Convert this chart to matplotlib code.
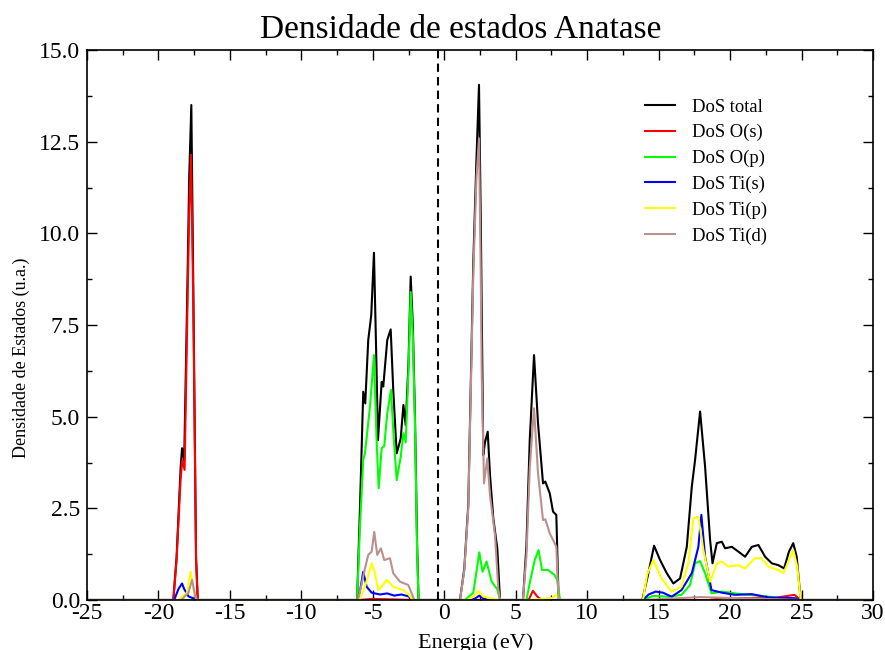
import matplotlib
matplotlib.use("Agg")
import matplotlib.pyplot as plt
from matplotlib.ticker import MultipleLocator, FuncFormatter

# ---------------- data ----------------
labels = ["DoS total", "DoS O(s)", "DoS O(p)", "DoS Ti(s)", "DoS Ti(p)", "DoS Ti(d)"]
colors = ["#000000", "#ff0000", "#00ff00", "#0000ff", "#ffff00", "#bc8f8f"]

fermi_level = -0.42

total_x = [-25, -18.96, -18.73, -18.45, -18.35, -18.2, -17.98, -17.85, -17.7, -17.56, -17.37, -17.25,
           -6.1, -5.9, -5.67, -5.53, -5.32, -5.11, -4.92, -4.75, -4.64, -4.38, -4.27, -3.99, -3.75,
           -3.57, -3.33, -3.05, -2.86, -2.7, -2.5, -2.35, -2.2, -2.05, -1.9, -1.8,
           1.1, 1.4, 1.68, 2.03, 2.25, 2.43, 2.55, 2.73, 2.85, 3.04, 3.2, 3.43, 3.71, 3.9,
           5.51, 5.75, 5.98, 6.28, 6.56, 6.91, 7.07, 7.38, 7.61, 7.84, 8.0,
           13.86, 14.28, 14.68, 15.1, 15.57, 16.03, 16.5, 16.97, 17.32, 17.55, 17.9, 18.25, 18.6,
           18.77, 19.07, 19.42, 19.65, 20.12, 20.58, 21.05, 21.52, 21.98, 22.45, 22.92, 23.38,
           23.78, 24.12, 24.42, 24.66, 24.94, 30]
total_y = [0, 0, 1.18, 3.6, 4.14, 3.8, 8.45, 11.5, 13.5, 8.45, 1.18, 0,
           0, 2.5, 5.68, 5.36, 7.09, 7.77, 9.47, 6.5, 4.36, 5.95, 5.82, 7.09, 7.38,
           5.73, 4.0, 4.4, 5.32, 4.77, 6.5, 8.82, 7.5, 5.0, 1.5, 0,
           0, 0.85, 2.6, 9.2, 12.0, 14.05, 10.5, 3.95, 4.3, 4.59, 3.41, 2.23, 1.41, 0,
           0, 1.5, 4.36, 6.68, 4.82, 3.18, 3.23, 2.91, 2.41, 2.32, 0,
           0, 0.73, 1.48, 1.09, 0.73, 0.45, 0.59, 1.45, 3.09, 3.82, 5.14, 3.64, 1.64,
           1.0, 1.55, 1.59, 1.41, 1.45, 1.32, 1.18, 1.45, 1.5, 1.18, 1.0, 0.95,
           0.86, 1.32, 1.55, 1.18, 0, 0]

os_x = [-25, -18.96, -18.73, -18.45, -18.33, -18.17, -17.98, -17.85, -17.72, -17.56, -17.37, -17.25,
        -6.0, -5.0, -2.0, 5.9, 6.2, 6.5, 6.8, 18.5, 19.5, 23.0, 24.5, 24.94, 30]
os_y = [0, 0, 1.1, 3.3, 3.82, 3.55, 7.8, 10.5, 12.14, 8.0, 1.1, 0,
        0, 0.03, 0, 0, 0.25, 0.1, 0, 0, 0.05, 0.05, 0.14, 0, 0]

op_x = [-25, -6.1, -5.9, -5.67, -5.55, -5.2, -4.92, -4.75, -4.59, -4.38, -4.2, -3.99, -3.73, -3.55,
        -3.33, -3.05, -2.86, -2.7, -2.5, -2.35, -2.2, -2.05, -1.9, -1.8,
        1.45, 2.03, 2.3, 2.45, 2.68, 2.96, 3.31, 3.7, 3.9,
        5.75, 6.0, 6.33, 6.6, 6.84, 7.26, 7.72, 7.9, 8.1,
        13.9, 14.6, 15.7, 16.6, 17.2, 17.55, 17.9, 18.25, 18.7, 19.42, 20.35, 22.68, 24.9, 30]
op_y = [0, 0, 2.0, 3.82, 4.0, 5.27, 6.68, 4.5, 3.05, 4.14, 4.2, 5.09, 5.73, 4.5,
        3.27, 3.9, 4.55, 4.3, 6.3, 8.4, 7.2, 4.8, 1.3, 0,
        0, 0.2, 0.9, 1.3, 0.77, 1.05, 0.5, 0.3, 0,
        0, 0.5, 1.09, 1.36, 0.82, 0.82, 0.68, 0.55, 0,
        0, 0.11, 0.09, 0.14, 0.41, 1.0, 1.06, 0.73, 0.18, 0.23, 0.18, 0.09, 0, 0]

tis_x = [-25, -18.9, -18.6, -18.35, -18.2, -17.9, -17.6, -17.3,
         -6.05, -5.85, -5.67, -5.43, -5.08, -4.5, -4.0, -3.5, -3.0, -2.5, -2.1,
         1.8, 2.2, 2.45, 2.7, 3.1,
         13.9, 14.3, 14.8, 15.3, 15.91, 16.6, 17.32, 17.78, 17.99, 18.25, 18.7, 19.42, 20.35,
         21.52, 22.68, 24.5, 24.94, 30]
tis_y = [0, 0, 0.3, 0.45, 0.3, 0.1, 0.05, 0,
         0, 0.35, 0.77, 0.36, 0.2, 0.15, 0.18, 0.12, 0.15, 0.1, 0,
         0, 0.05, 0.12, 0.05, 0,
         0, 0.15, 0.23, 0.2, 0.09, 0.27, 0.73, 1.45, 2.32, 1.18, 0.27, 0.2, 0.14,
         0.16, 0.07, 0.05, 0, 0]

tip_x = [-25, -18.6, -18.0, -17.75, -17.55, -17.35,
         -5.95, -5.55, -5.08, -4.85, -4.62, -4.3, -4.03, -3.57, -2.86, -2.5, -2.2,
         1.6, 2.1, 2.4, 2.7, 3.2, 3.9,
         6.0, 7.5, 7.85, 8.05,
         13.9, 14.2, 14.63, 15.2, 15.91, 16.6, 17.08, 17.43, 17.78, 18.13, 18.6, 19.07, 19.42,
         19.87, 20.58, 21.05, 21.74, 22.2, 22.68, 23.38, 23.73, 24.42, 24.7, 24.94, 30]
tip_y = [0, 0, 0.2, 0.77, 0.3, 0,
         0, 0.36, 1.0, 0.73, 0.27, 0.4, 0.55, 0.36, 0.27, 0.15, 0,
         0, 0.1, 0.25, 0.1, 0.05, 0,
         0, 0.05, 0.15, 0,
         0, 0.7, 1.09, 0.59, 0.23, 0.36, 1.0, 2.23, 2.27, 1.36, 0.5, 1.0, 1.05,
         0.91, 0.95, 0.86, 1.14, 1.14, 0.91, 0.82, 0.73, 1.36, 0.9, 0, 0]

tid_x = [-25, -18.4, -17.9, -17.65, -17.45, -17.3,
         -6.05, -5.8, -5.55, -5.32, -5.08, -4.9, -4.69, -4.43, -4.2, -3.8, -3.57, -3.1, -2.52,
         -2.3, -2.1,
         1.1, 1.4, 1.68, 2.03, 2.25, 2.43, 2.55, 2.62, 2.78, 3.01, 3.2, 3.55, 3.78, 3.9,
         5.5, 5.75, 5.98, 6.28, 6.56, 6.91, 7.07, 7.38, 7.61, 7.84, 8.0,
         14.0, 17.9, 25.0, 30]
tid_y = [0, 0, 0.2, 0.55, 0.15, 0,
         0, 0.4, 0.86, 1.23, 1.32, 1.86, 1.23, 1.41, 1.09, 1.14, 0.73, 0.5, 0.41,
         0.2, 0,
         0, 0.8, 2.5, 8.86, 11.5, 12.59, 9.0, 6.14, 3.18, 3.86, 2.86, 1.77, 0.3, 0,
         0, 1.2, 3.6, 5.23, 3.45, 2.18, 2.2, 1.82, 1.64, 1.45, 0,
         0, 0.08, 0, 0]

xticks = [-25, -20, -15, -10, -5, 0, 5, 10, 15, 20, 25, 30]
yticks = [0.0, 2.5, 5.0, 7.5, 10.0, 12.5, 15.0]

series = [(total_x, total_y), (os_x, os_y), (op_x, op_y),
          (tis_x, tis_y), (tip_x, tip_y), (tid_x, tid_y)]

# ---------------- plot ----------------
plt.rcParams['font.family'] = ['Liberation Serif', 'DejaVu Serif']

fig = plt.figure(figsize=(8.85, 6.5), dpi=100)
ax = fig.add_axes([87 / 885, 50 / 650, 786 / 885, 550 / 650])

for (xs, ys), c, lab in zip(series, colors, labels):
    ax.plot(xs, ys, color=c, lw=1.5, label=lab, solid_joinstyle='round')

ax.axvline(fermi_level, color='black', lw=1.5, ls=(0, (4, 2.5)))

ax.set_xlim(-25, 30)
ax.set_ylim(0, 15)
ax.set_xticks(xticks)
ax.set_yticks(yticks)
ax.xaxis.set_minor_locator(MultipleLocator(2.5))
ax.yaxis.set_minor_locator(MultipleLocator(1.25))
ax.xaxis.set_major_formatter(FuncFormatter(lambda v, p: f"{v:.0f}"))
ax.yaxis.set_major_formatter(FuncFormatter(lambda v, p: f"{v:.1f}"))
ax.tick_params(which='both', direction='in', top=True, right=True, labelsize=17, width=1.0)
ax.tick_params(which='major', length=7)
ax.tick_params(axis='x', which='major', pad=2)
ax.tick_params(axis='y', which='major', pad=5)
ax.tick_params(which='minor', length=3.5)
for s in ax.spines.values():
    s.set_linewidth(1.2)

ax.set_title("Densidade de estados Anatase", fontsize=24, x=0.476, pad=9)
ax.set_xlabel("Energia (eV)", fontsize=16)
ax.xaxis.label.set_va('center')
ax.xaxis.set_label_coords(0.494, -0.078)
ax.set_ylabel("Densidade de Estados (u.a.)", fontsize=13)
ax.yaxis.label.set_va('center')
ax.yaxis.set_label_coords(-0.083, 0.44)

leg = ax.legend(loc='upper left', bbox_to_anchor=(0.71, 0.9115), frameon=False,
                borderpad=0, borderaxespad=0,
                fontsize=13.4, handlelength=1.6, handletextpad=0.9, labelspacing=0.455)

fig.savefig("out.png", dpi=100)
